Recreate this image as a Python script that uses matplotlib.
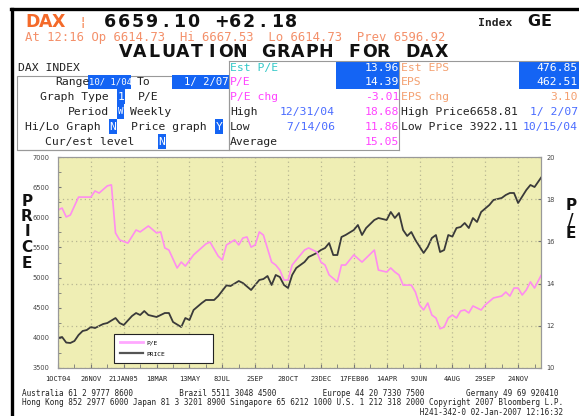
import numpy as np
import pandas as pd
import matplotlib
matplotlib.use('Agg')
import matplotlib.pyplot as plt
import matplotlib.transforms as mtransforms
from matplotlib.patches import Rectangle
from matplotlib.lines import Line2D

# weekly readings, x = weeks since 1 Oct 2004 (last point is 2 Jan 2007)
price_weeks = [0, 1, 2, 3, 4, 5, 6, 7, 8, 9, 11, 12, 14, 15, 16, 18, 19, 20, 21, 22,
               24, 26, 27, 28, 30, 31, 32, 33, 35, 36, 37, 38, 39, 41, 42, 44, 45, 47, 48, 49,
               50, 51, 52, 53, 54, 55, 56, 57, 58, 60, 61, 63, 64, 65, 66, 67, 68, 69, 70, 72,
               73, 74, 75, 77, 78, 80, 81, 82, 83, 84, 85, 86, 87, 89, 90, 91, 92, 93, 94, 95,
               96, 97, 98, 99, 100, 101, 102, 103, 105, 106, 108, 109, 110, 111, 112, 114, 115, 116, 117.6]
price = [3998, 4014, 3922, 3915, 3948, 4047, 4114, 4130, 4180, 4163, 4230, 4246, 4329, 4246, 4213,
         4362, 4412, 4379, 4445, 4379, 4346, 4412, 4412, 4263, 4180, 4329, 4296, 4462, 4578, 4628,
         4628, 4628, 4694, 4870, 4860, 4943, 4910, 4794, 4877, 4960, 4976, 5026, 4877, 5043, 5009,
         4877, 4827, 5043, 5159, 5258, 5341, 5408, 5457, 5490, 5573, 5374, 5374, 5673, 5706, 5789,
         5872, 5706, 5822, 5955, 5988, 5955, 6088, 5988, 6071, 5789, 5690, 5756, 5623, 5408, 5507,
         5656, 5706, 5424, 5457, 5706, 5680, 5822, 5839, 5905, 5822, 5988, 5922, 6088, 6204, 6287,
         6320, 6370, 6403, 6403, 6237, 6453, 6536, 6502, 6659]

pe_weeks = [0, 1, 2, 3, 5, 8, 9, 10, 12, 13, 14, 15, 17, 19, 20, 22, 24, 25, 26, 27,
            29, 30, 31, 33, 36, 37, 39, 40, 41, 43, 44, 45, 46, 47, 48, 49, 50, 52, 53, 54,
            55, 56, 57, 58, 60, 61, 63, 64, 65, 66, 68, 69, 70, 72, 74, 77, 78, 80, 81, 82,
            83, 84, 86, 87, 88, 89, 90, 91, 92, 93, 94, 95, 96, 97, 98, 99, 100, 101, 103, 104,
            106, 108, 109, 110, 111, 112, 113, 114, 115, 116, 117.6]
pe = [17.49, 17.58, 17.16, 17.25, 18.10, 18.10, 18.39, 18.29, 18.63, 18.68, 16.40, 16.07, 15.92,
      16.54, 16.45, 16.73, 16.40, 16.45, 15.69, 15.59, 14.74, 15.02, 14.83, 15.36, 15.88, 15.97,
      15.30, 15.12, 15.83, 16.07, 15.83, 16.16, 16.21, 15.73, 15.83, 16.45, 16.30, 15.02, 14.88,
      14.64, 14.17, 14.17, 14.88, 15.12, 15.59, 15.69, 15.50, 15.02, 14.88, 14.41, 14.08, 14.88,
      14.88, 15.36, 15.02, 15.59, 14.64, 14.55, 14.74, 14.55, 14.41, 13.93, 13.93, 13.60, 12.99,
      12.75, 13.08, 12.51, 12.37, 11.86, 11.94, 12.37, 12.51, 12.37, 12.70, 12.75, 12.61, 12.94,
      12.75, 12.99, 13.32, 13.41, 13.60, 13.41, 13.79, 13.79, 13.46, 13.70, 14.08, 13.79, 14.39]

tick_labels = ['1OCT04', '26NOV', '21JAN05', '18MAR', '13MAY', '8JUL', '2SEP', '28OCT',
               '23DEC', '17FEB06', '14APR', '9JUN', '4AUG', '29SEP', '24NOV']

W, H = 579, 416
MONO = 'DejaVu Sans Mono'
BLUE = '#1464f4'
MAG = '#ff44ff'
ORANGE = '#f4a070'
DATEBLUE = '#4a6cff'

fig = plt.figure(figsize=(W / 100, H / 100), dpi=100)
# pixel coords from the top-left corner
px = mtransforms.Affine2D().scale(1 / W, -1 / H).translate(0, 1) + fig.transFigure


def txt(x, y, s, size=8.2, color='#222222', ha='left', family=MONO, **kw):
    fig.text(x, y, s, transform=px, fontsize=size, color=color, ha=ha, va='center',
             family=family, **kw)


def spaced(x, y, s, pitch, **kw):
    for i, ch in enumerate(s):
        fig.text(x + (i + 0.5) * pitch, y, ch, transform=px, ha='center', va='center', **kw)


def box(x, y, w, h, fc=BLUE, ec='none', lw=0):
    fig.add_artist(Rectangle((x, y), w, h, transform=px, facecolor=fc, edgecolor=ec, lw=lw))


def hline(x1, x2, y, color='#999999', lw=0.8):
    fig.add_artist(Line2D([x1, x2], [y, y], transform=px, color=color, lw=lw))


def vline(x, y1, y2, color='#999999', lw=0.8):
    fig.add_artist(Line2D([x, x], [y1, y2], transform=px, color=color, lw=lw))


# terminal frame
hline(11, W, 9, color='black', lw=2.4)
vline(12, 9, H, color='black', lw=2.4)

# header
big = dict(fontsize=12.5, fontweight='bold', family='DejaVu Sans')
spaced(26, 22, 'DAX', 12.8, color='#f46a2a', **big)
txt(80, 22, '\u00a6', size=9, color='#f46a2a', family='DejaVu Sans')
spaced(103, 22, '6659.10 +62.18', 13.9, color='#111111', **big)
txt(478, 23, 'Index', size=8.2, color='#222222', fontweight='bold')
spaced(527, 22, 'GE', 13, color='#111111', fontsize=11.5, fontweight='bold', family='DejaVu Sans')
txt(25, 37, 'At 12:16 Op 6614.73  Hi 6667.53  Lo 6614.73  Prev 6596.92', size=8.8, color='#f4906a')
spaced(118, 52, 'VALUATION GRAPH FOR DAX', 14.35, color='#111111', **big)

# settings panel
txt(18, 68, 'DAX INDEX')
box(17, 76, 212, 74, fc='none', ec='#999999', lw=0.8)
hline(229, W, 61)
vline(229, 61, 150)
vline(399, 61, 150)
hline(17, 399, 150)

txt(55, 82, 'Range')
box(88, 75, 43, 14)
txt(89, 82, '10/ 1/04', color='white', size=6.4)
txt(137, 82, 'To')
box(172, 75, 57, 14)
txt(229, 82, '1/ 2/07', color='white', ha='right', size=7.6)
txt(40, 97, 'Graph Type')
box(117, 89, 8, 15)
txt(121, 97, '1', color='white', ha='center')
txt(138, 97, 'P/E')
txt(68, 112, 'Period')
box(117, 104, 7, 15)
txt(120.5, 112, 'W', color='white', ha='center', size=6.5)
txt(130, 112, 'Weekly')
txt(25, 127, 'Hi/Lo Graph')
box(109, 119, 8, 15)
txt(113, 127, 'N', color='white', ha='center')
txt(131, 127, 'Price graph')
box(215, 119, 8, 15)
txt(219, 127, 'Y', color='white', ha='center')
txt(45, 142, 'Cur/est level')
box(158, 134, 8, 15)
txt(162, 142, 'N', color='white', ha='center')

# P/E column
box(336, 62, 63, 27)
txt(230, 68, 'Est P/E', color='#33c8c8')
txt(399, 68, '13.96', color='white', ha='right')
txt(230, 82, 'P/E', color=MAG)
txt(399, 82, '14.39', color='white', ha='right')
txt(230, 97, 'P/E chg', color=MAG)
txt(399, 97, '-3.01', color=MAG, ha='right')
txt(230, 112, 'High')
txt(280, 112, '12/31/04', color=DATEBLUE)
txt(399, 112, '18.68', color=MAG, ha='right')
txt(230, 127, 'Low')
txt(280, 127, ' 7/14/06', color=DATEBLUE)
txt(399, 127, '11.86', color=MAG, ha='right')
txt(230, 142, 'Average')
txt(399, 142, '15.05', color=MAG, ha='right')

# EPS column
box(519, 62, 62, 27)
txt(401, 68, 'Est EPS', color=ORANGE)
txt(578, 68, '476.85', color='white', ha='right')
txt(401, 82, 'EPS', color=ORANGE)
txt(578, 82, '462.51', color='white', ha='right')
txt(401, 97, 'EPS chg', color=ORANGE)
txt(578, 97, '3.10', color=ORANGE, ha='right')
txt(401, 112, 'High Price6658.81')
txt(578, 112, '1/ 2/07', color=DATEBLUE, ha='right')
txt(401, 127, 'Low Price 3922.11')
txt(578, 127, '10/15/04', color=DATEBLUE, ha='right')

# axis titles
for ch, yy in zip('PRICE', [201, 216.5, 232, 248, 264]):
    txt(27, yy, ch, size=11, color='#111111', ha='center', family='DejaVu Sans', fontweight='bold')
for ch, yy in zip('P/E', [206, 220, 234]):
    txt(571, yy, ch, size=11, color='#111111', ha='center', family='DejaVu Sans', fontweight='bold')

# chart
start = pd.Timestamp('2004-10-01')
end = pd.Timestamp('2007-01-02')


def to_dates(weeks):
    return start + pd.to_timedelta(np.asarray(weeks) * 7, unit='D')


ax = fig.add_axes([58 / W, 1 - 368 / H, 483 / W, 211 / H])
ax.set_facecolor('#efeeb4')
price_line, = ax.plot(to_dates(price_weeks), price, color='#3a3a3a', lw=1.3)
ax.set_xlim(start, end)
ax.set_ylim(3500, 7000)
ax.set_yticks(range(3500, 7001, 500))
ax.set_yticks(range(3750, 7000, 500), minor=True)
ax.set_xticks(pd.date_range(start, periods=len(tick_labels), freq='56D'))
ax.set_xticklabels(tick_labels)
ax.set_xticks(pd.date_range(start, end, freq='28D'), minor=True)
ax.tick_params(axis='x', which='both', direction='in', length=3, pad=6, labelsize=5,
               labelcolor='#222222', color='#777777')
ax.tick_params(axis='y', which='both', direction='in', length=2, pad=6, labelsize=4.8,
               labelcolor='#444444', color='#777777')
for lab in ax.get_xticklabels():
    lab.set_family(MONO)
ax.grid(axis='x', which='major', color='#b8b792', linestyle=(0, (1, 2.5)), lw=0.9)

ax2 = ax.twinx()
pe_line, = ax2.plot(to_dates(pe_weeks), pe, color='#ff8cf0', lw=1.2)
ax2.set_ylim(10, 20)
ax2.set_yticks(range(10, 21, 2))
ax2.tick_params(axis='y', direction='in', length=2, pad=4, labelsize=4.8,
                labelcolor='#444444', color='#777777')
ax2.grid(axis='y', color='#b8b792', linestyle=(0, (1, 2.5)), lw=0.9)
for a in (ax, ax2):
    for sp in a.spines.values():
        sp.set_color('#999999')
        sp.set_linewidth(0.8)

handles = [Line2D([], [], color='#ffa8ff', lw=2), Line2D([], [], color='#555555', lw=1.6)]
leg = ax2.legend(handles, ['P/E', 'PRICE'], loc='lower left',
                 bbox_to_anchor=(0.116, 0.024, 0.205, 0.147), mode='expand',
                 prop={'family': MONO, 'size': 4.5}, fancybox=False, edgecolor='#222222',
                 framealpha=1, handlelength=3.6, borderpad=1.0, labelspacing=0.9,
                 handletextpad=0.6, borderaxespad=0)
leg.get_frame().set_linewidth(0.8)

# footer, monospaced columns in one block
footer = '\n'.join([
    'Australia 61 2 9777 8600'.ljust(34) + 'Brazil 5511 3048 4500'.ljust(31)
    + 'Europe 44 20 7330 7500'.ljust(31) + 'Germany 49 69 920410',
    'Hong Kong 852 2977 6000 Japan 81 3 3201 8900 Singapore 65 6212 1000 '
    'U.S. 1 212 318 2000 Copyright 2007 Bloomberg L.P.',
    ' ' * 86 + 'H241-342-0 02-Jan-2007 12:16:32',
])
fig.text(22, 389, footer, transform=px, fontsize=5.5, family=MONO, color='#222222',
         ha='left', va='top', linespacing=1.05)

fig.savefig('out.png', dpi=100, facecolor='white')
